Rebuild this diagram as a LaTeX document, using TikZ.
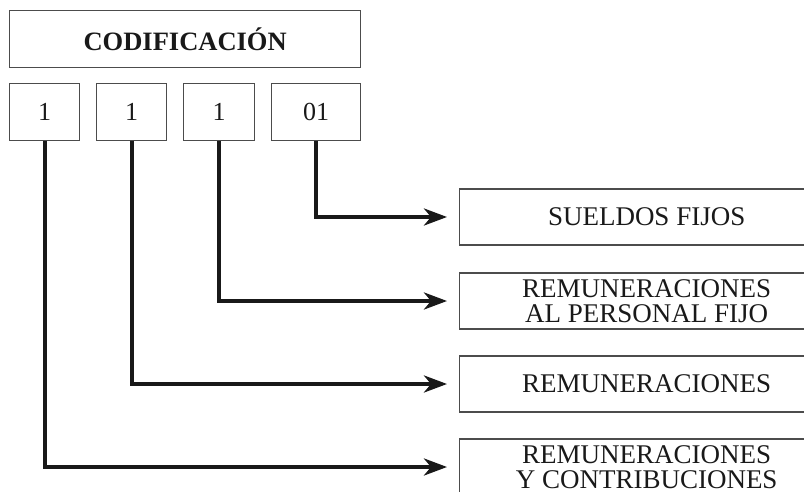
\documentclass[tikz,border=0pt]{standalone}
\usepackage{fontspec}
\setmainfont{Liberation Serif}
\usetikzlibrary{arrows.meta}
\tikzset{x=1pt, y=-1pt,
    codebox/.style={draw=black!70, line width=1.3pt, inner sep=0pt, anchor=north west,
        minimum height=57pt, text=black!90},
    digit/.style={codebox, font=\fontsize{26}{26}\selectfont},
    itembox/.style={draw=black!70, line width=1.3pt, inner sep=0pt, anchor=west,
        minimum width=374pt, minimum height=56pt, align=center, text=black!90,
        font=\fontsize{27}{25}\selectfont},
    link/.style={line width=4pt, draw=black!90, shorten >=12pt,
        -{Stealth[length=23pt,width=17pt,inset=7pt]}},
    }
\begin{document}
\begin{tikzpicture}
	\useasboundingbox (0,0) rectangle (804,492);
	\clip (0,0) rectangle (804,492);
	% title and the four digit groups
	\node[codebox, minimum width=351pt, font=\bfseries\fontsize{26.5}{26.5}\selectfont] (title) at (9,10) {CODIFICACIÓN};
	\node[digit, minimum width=70pt] (grupo) at (9,83) {1};
	\node[digit, minimum width=70pt] (subgrupo) at (96,83) {1};
	\node[digit, minimum width=71pt] (rubro) at (183,83) {1};
	\node[digit, minimum width=89pt] (cuenta) at (271,83) {01};
	% meanings
	\node[itembox] (sueldos) at (459,217) {SUELDOS FIJOS};
	\node[itembox] (personal) at (459,301) {REMUNERACIONES\\AL PERSONAL FIJO};
	\node[itembox] (remun) at (459,384) {REMUNERACIONES};
	\node[itembox] (contrib) at (459,467) {REMUNERACIONES\\Y CONTRIBUCIONES};
	% connectors
	\draw[link] (cuenta.south) |- (sueldos.west);
	\draw[link] (rubro.south) |- (personal.west);
	\draw[link] (subgrupo.south) |- (remun.west);
	\draw[link] (grupo.south) |- (contrib.west);
\end{tikzpicture}
\end{document}
